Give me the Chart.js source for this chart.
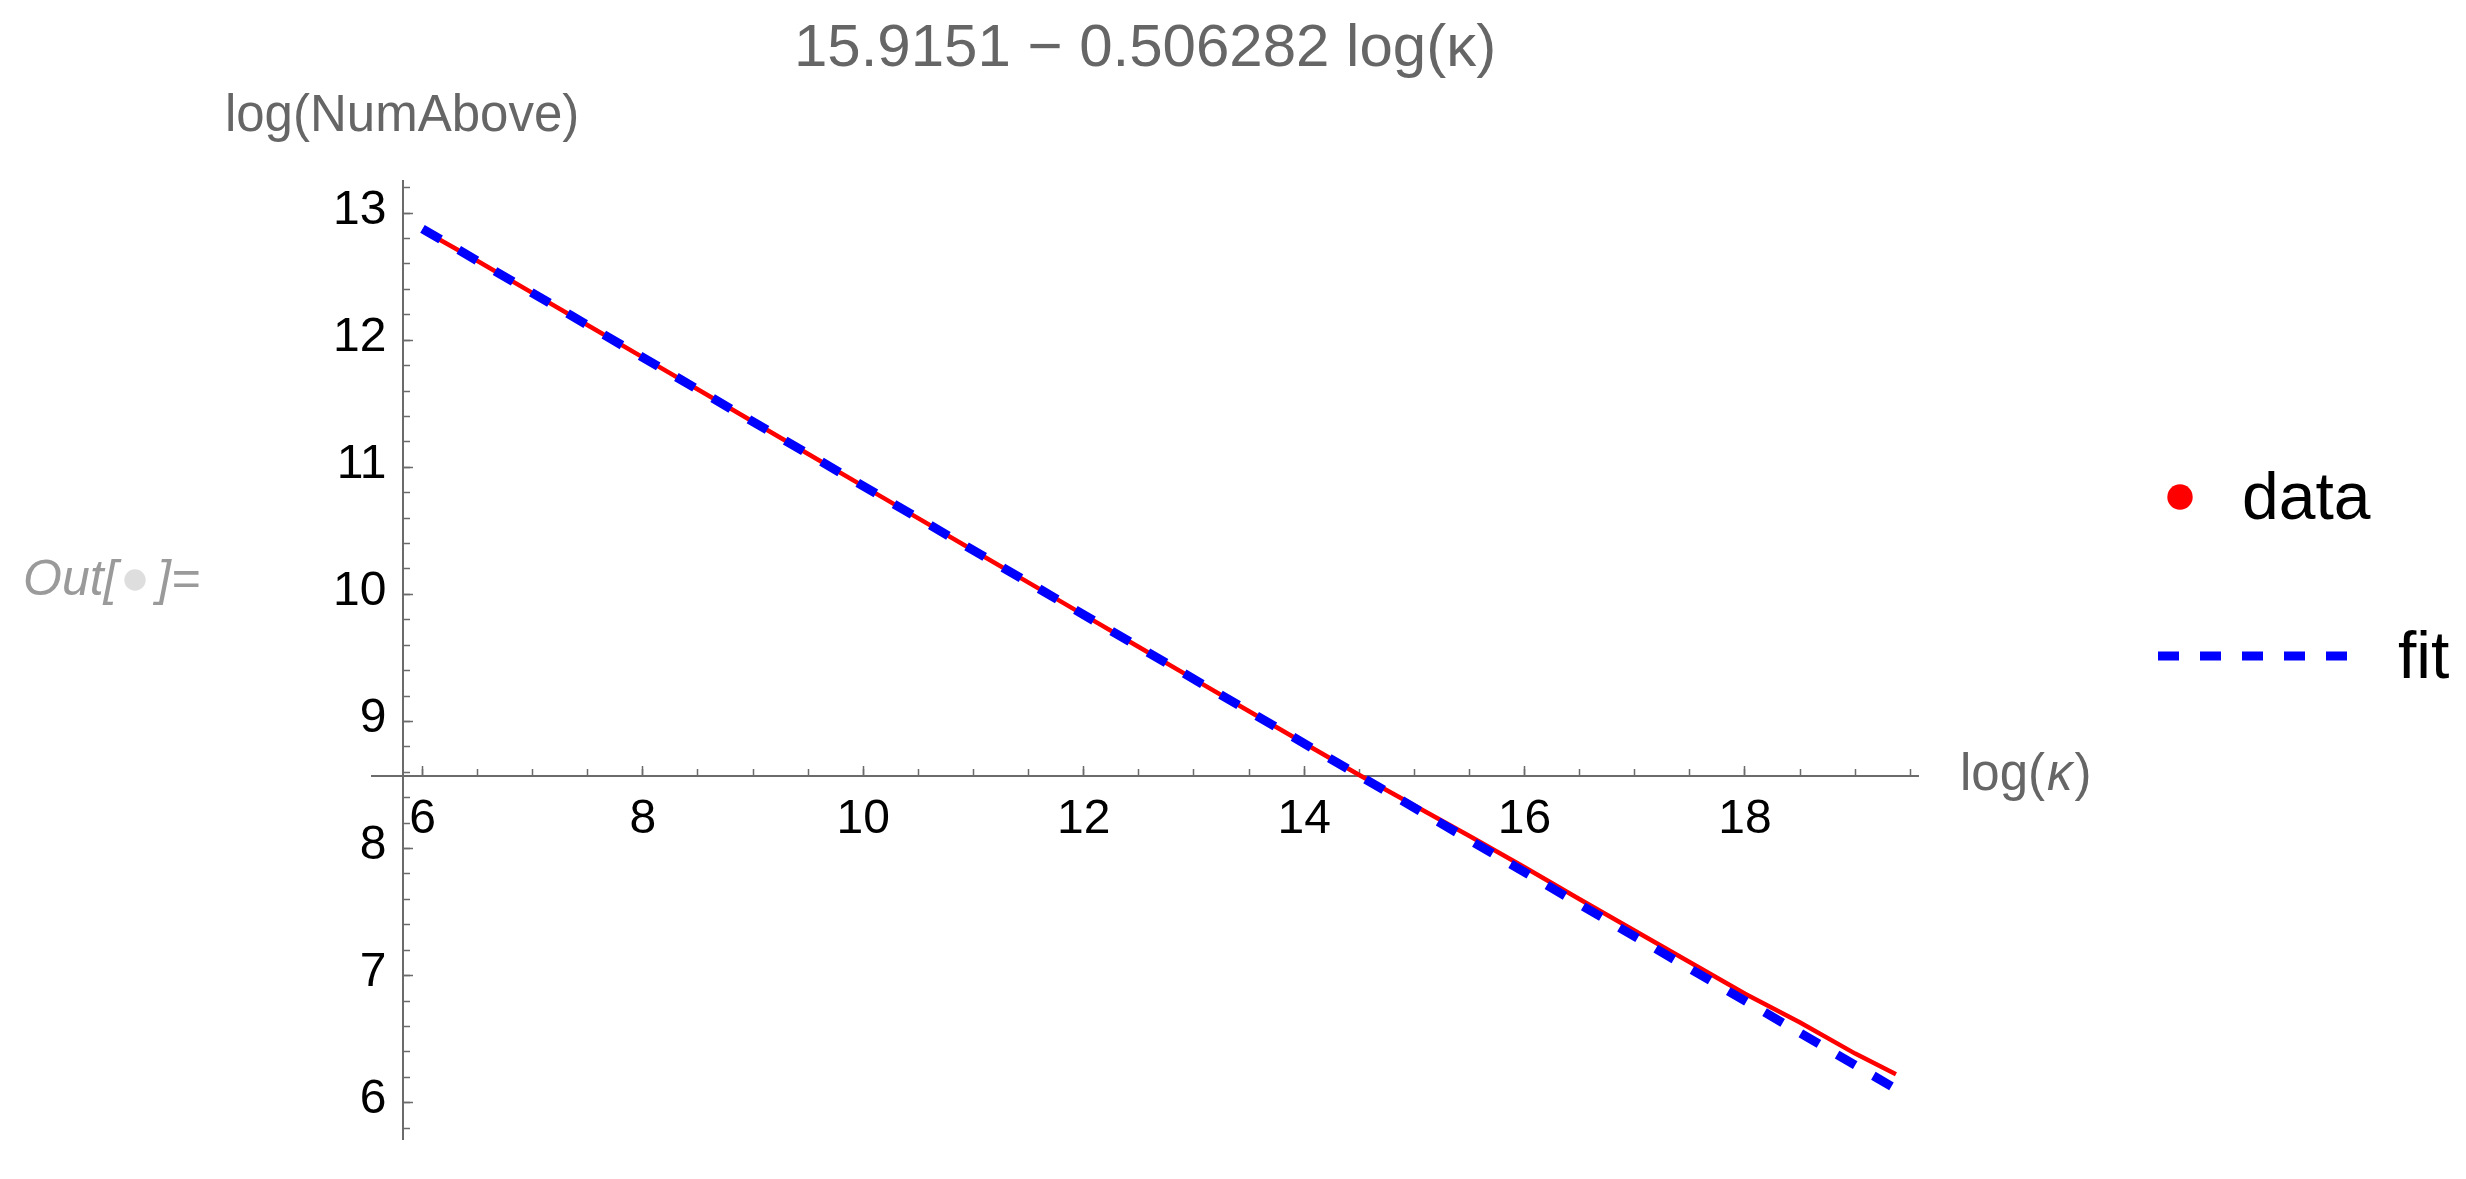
<!DOCTYPE html>
<html>
<head>
<meta charset="utf-8">
<title>log(NumAbove) vs log(κ)</title>
<script src="https://cdn.jsdelivr.net/npm/chart.js@4.4.1/dist/chart.umd.min.js"></script>
<style>
  html, body { margin: 0; padding: 0; background: #fff; }
  #fitChart { display: block; width: 2466px; height: 1179px; }
</style>
</head>
<body>
<canvas id="fitChart" width="2466" height="1179"></canvas>
<script>
// ==================== DATA ====================
// log(kappa) vs log(NumAbove)
const dataX = [6, 6.5, 7, 7.5, 8, 8.5, 9, 9.5, 10, 10.5, 11, 11.5, 12, 12.5,
               13, 13.5, 14, 14.5, 15, 15.5, 16, 16.5, 17, 17.5, 18, 18.5, 19, 19.37];
const dataY = [12.867, 12.624, 12.371, 12.118, 11.865, 11.612, 11.358, 11.105, 10.852, 10.598,
               10.345, 10.092, 9.839, 9.586, 9.333, 9.080, 8.828, 8.578, 8.338, 8.098,
               7.852, 7.601, 7.353, 7.105, 6.857, 6.630, 6.386, 6.223];

// fit line 15.9151 - 0.506282 log(kappa), end points
const fitX = [6, 19.37];
const fitY = [12.877, 6.108];

// plot range and where the axes cross
const xRange = [5.542, 19.57];
const yRange = [5.714, 13.257];
const axesOrigin = [5.824, 8.574];

const titleText = '15.9151 \u2212 0.506282 log(\u03ba)';
const yAxisLabel = 'log(NumAbove)';

// ==================== STYLE ====================
const FONT = "'Liberation Sans', Arial, sans-serif";
const AXIS_GRAY = '#6b6b6b';
const LABEL_GRAY = '#666666';
const TICK_FONT_SIZE = 48;

// widest y tick label, so the mirrored labels end 16px left of the axis
const probe = document.createElement('canvas').getContext('2d');
probe.font = `${TICK_FONT_SIZE}px ${FONT}`;
const widestYLabel = Math.max(...['6', '7', '8', '9', '10', '11', '12', '13'].map(t => probe.measureText(t).width));

// ==================== EXTRA LABELS + LEGEND ====================
const notebookLabels = {
  id: 'notebookLabels',
  afterDraw(chart) {
    const ctx = chart.ctx;
    const area = chart.chartArea;
    const yAxisPx = chart.scales.x.getPixelForValue(axesOrigin[0]);
    ctx.save();

    // y axis label, centred above the axis
    ctx.fillStyle = LABEL_GRAY;
    ctx.font = `51px ${FONT}`;
    ctx.textBaseline = 'alphabetic';
    ctx.textAlign = 'center';
    ctx.fillText(yAxisLabel, yAxisPx - 1, 131);

    // x axis label at the end of the axis, kappa in italics
    ctx.textAlign = 'left';
    let lx = area.right + 42;
    ctx.fillText('log(', lx, 790);
    lx += ctx.measureText('log(').width;
    ctx.font = `italic 51px ${FONT}`;
    ctx.fillText('\u03ba', lx + 2, 790);
    lx += ctx.measureText('\u03ba').width + 4;
    ctx.font = `51px ${FONT}`;
    ctx.fillText(')', lx, 790);

    // Out[ ]= cell label
    ctx.fillStyle = '#9a9a9a';
    ctx.font = `italic 50px ${FONT}`;
    ctx.fillText('Out[', 23, 595);
    ctx.fillText(']=', 157, 595);
    ctx.fillStyle = '#dedede';
    ctx.beginPath();
    ctx.arc(135, 580, 10.7, 0, Math.PI * 2);
    ctx.fill();

    // legend
    const [dataSet, fitSet] = chart.data.datasets;
    ctx.fillStyle = dataSet.borderColor;
    ctx.beginPath();
    ctx.arc(2180, 497, 12.7, 0, Math.PI * 2);
    ctx.fill();

    ctx.strokeStyle = fitSet.borderColor;
    ctx.lineWidth = fitSet.borderWidth;
    ctx.lineCap = 'butt';
    ctx.setLineDash(fitSet.borderDash);
    ctx.beginPath();
    ctx.moveTo(2158, 656);
    ctx.lineTo(2347, 656);
    ctx.stroke();
    ctx.setLineDash([]);

    ctx.fillStyle = '#000';
    ctx.font = `66px ${FONT}`;
    ctx.fillText(dataSet.label, 2242, 519);
    ctx.fillText(fitSet.label, 2398, 678);

    ctx.restore();
  }
};

// ==================== CHART ====================
const ctx = document.getElementById('fitChart').getContext('2d');

window.fitChart = new Chart(ctx, {
  type: 'scatter',
  data: {
    datasets: [
      {
        label: 'data',
        data: dataX.map((x, i) => ({ x: x, y: dataY[i] })),
        showLine: true,
        borderColor: '#ff0000',
        backgroundColor: '#ff0000',
        borderWidth: 4.5,
        pointRadius: 0,
        order: 1
      },
      {
        label: 'fit',
        data: fitX.map((x, i) => ({ x: x, y: fitY[i] })),
        showLine: true,
        borderColor: '#0000ff',
        backgroundColor: '#0000ff',
        borderWidth: 9,
        borderDash: [21, 21],
        pointRadius: 0,
        order: 0
      }
    ]
  },
  options: {
    responsive: false,
    devicePixelRatio: 1,
    animation: false,
    events: [],
    layout: { padding: { left: 372, right: 548, top: 0, bottom: 40 } },
    scales: {
      // major x ticks + labels, axis drawn through y = axesOrigin[1]
      x: {
        type: 'linear', axis: 'x',
        min: xRange[0], max: xRange[1],
        position: { y: axesOrigin[1] },
        border: { display: true, color: AXIS_GRAY, width: 2 },
        grid: { display: true, drawOnChartArea: false, drawTicks: true, tickLength: -11, tickColor: AXIS_GRAY, tickWidth: 1.5 },
        ticks: {
          stepSize: 2, includeBounds: false, autoSkip: false, maxRotation: 0,
          padding: 26, color: '#000', font: { family: FONT, size: TICK_FONT_SIZE }
        }
      },
      xMinor: {
        type: 'linear', axis: 'x',
        min: xRange[0], max: xRange[1],
        position: { y: axesOrigin[1] },
        border: { display: false },
        grid: { display: true, drawOnChartArea: false, drawTicks: true, tickLength: -7, tickColor: AXIS_GRAY, tickWidth: 1.5 },
        ticks: { stepSize: 0.5, includeBounds: false, display: false }
      },
      // y axis line + major ticks, drawn through x = axesOrigin[0]
      y: {
        type: 'linear', axis: 'y',
        min: yRange[0], max: yRange[1],
        position: { x: axesOrigin[0] },
        border: { display: true, color: AXIS_GRAY, width: 2 },
        grid: { display: true, drawOnChartArea: false, drawTicks: true, tickLength: -11, tickColor: AXIS_GRAY, tickWidth: 1.5 },
        ticks: { stepSize: 1, includeBounds: false, display: false }
      },
      yMinor: {
        type: 'linear', axis: 'y',
        min: yRange[0], max: yRange[1],
        position: { x: axesOrigin[0] },
        border: { display: false },
        grid: { display: true, drawOnChartArea: false, drawTicks: true, tickLength: -7, tickColor: AXIS_GRAY, tickWidth: 1.5 },
        ticks: { stepSize: 0.2, includeBounds: false, display: false }
      },
      // y tick labels, right aligned just left of the axis (mirrored so they are not clipped)
      yLabels: {
        type: 'linear', axis: 'y',
        min: yRange[0], max: yRange[1],
        position: 'left',
        border: { display: false },
        grid: { display: false, drawTicks: false },
        ticks: {
          stepSize: 1, includeBounds: false,
          mirror: true, crossAlign: 'far',
          padding: 14.5 - widestYLabel, labelOffset: -2.5,
          color: '#000', font: { family: FONT, size: TICK_FONT_SIZE }
        },
        afterFit: (scale) => { scale.width = 0; }
      }
    },
    plugins: {
      legend: { display: false },
      tooltip: { enabled: false },
      title: {
        display: true,
        text: titleText,
        color: LABEL_GRAY,
        font: { family: FONT, size: 60, weight: 'normal', lineHeight: 1.2 },
        padding: { top: 13, bottom: 95.5 }
      }
    }
  },
  plugins: [notebookLabels]
});
</script>
</body>
</html>
